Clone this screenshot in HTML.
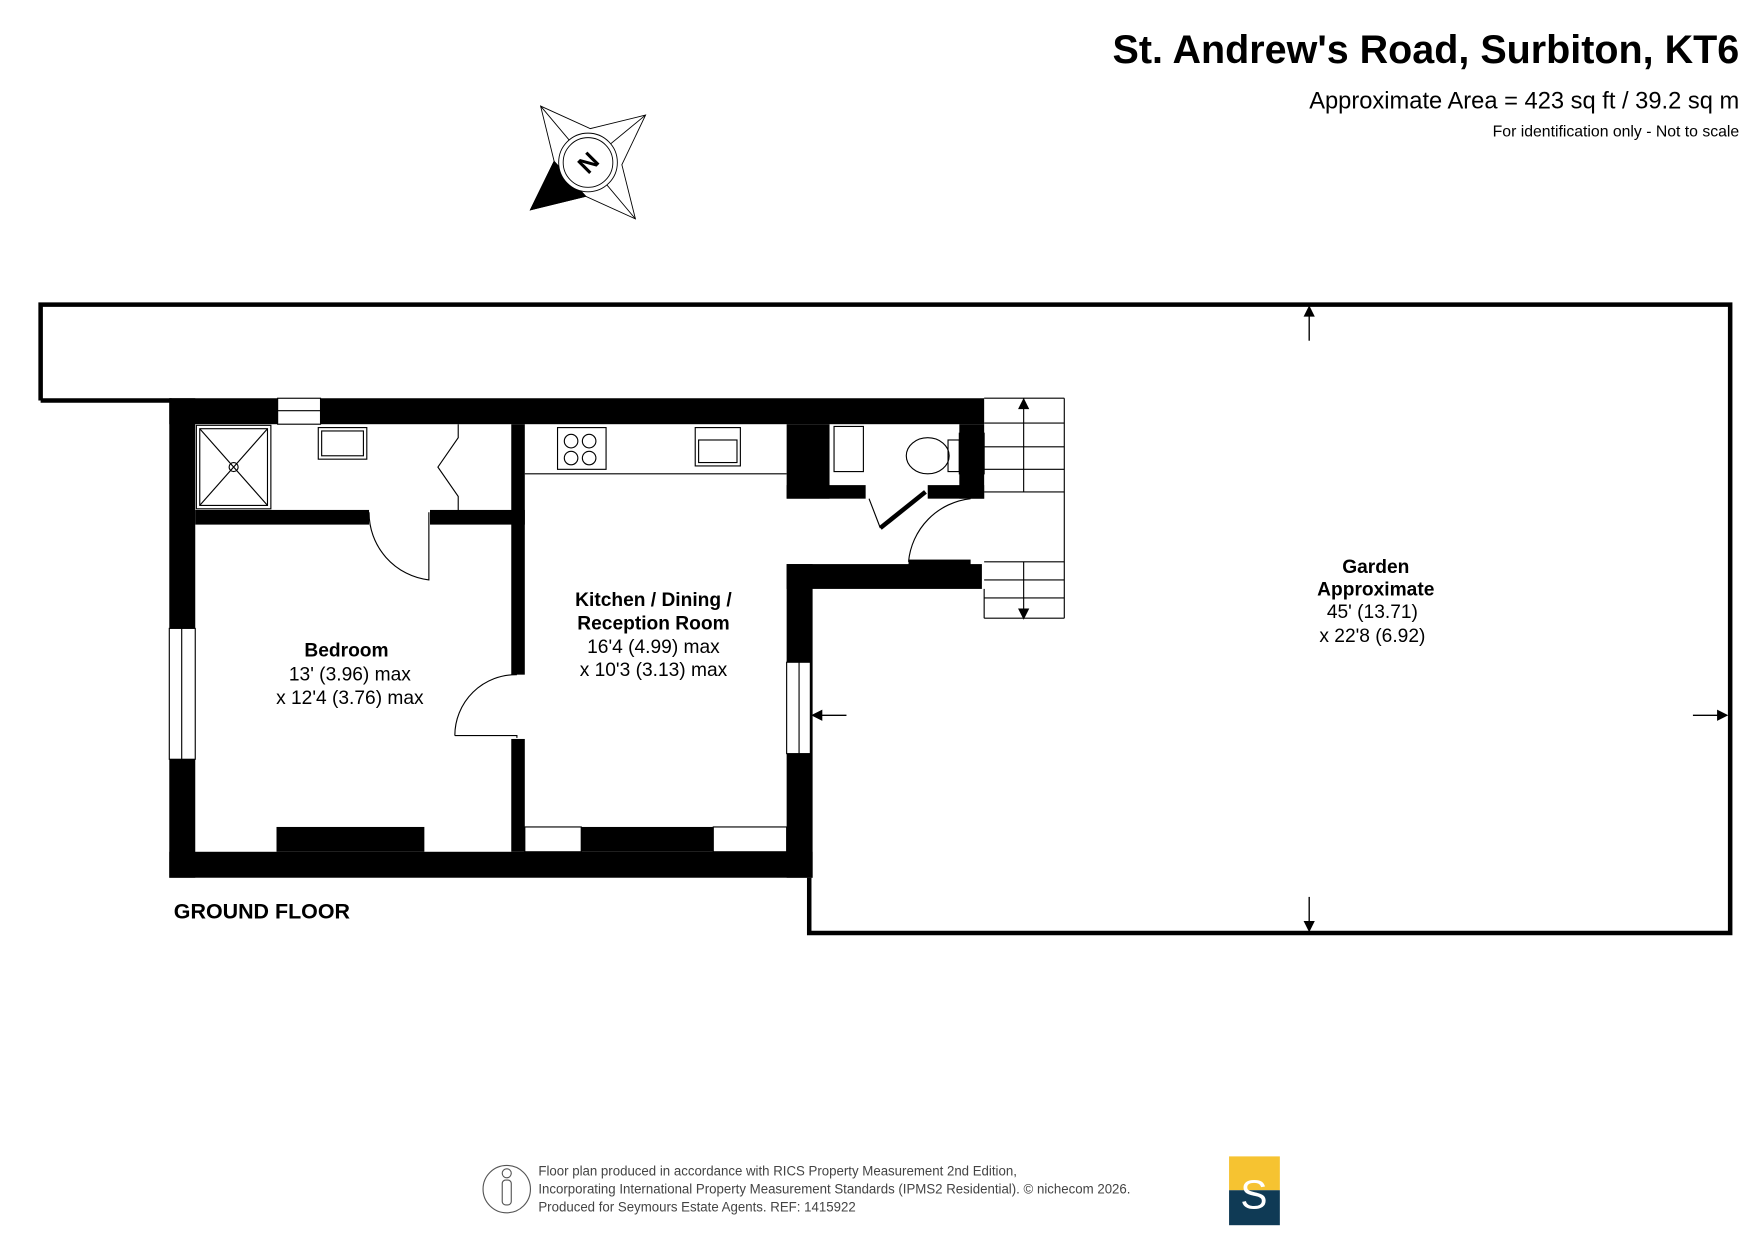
<!DOCTYPE html>
<html><head><meta charset="utf-8"><style>
html,body{margin:0;padding:0;background:#fff;}
svg{display:block;}
text{font-family:"Liberation Sans",Arial,sans-serif;}
</style></head><body>
<svg width="1755" height="1241" viewBox="0 0 1555 1100" preserveAspectRatio="none" xmlns="http://www.w3.org/2000/svg">
<rect width="1555" height="1100" fill="#fff"/>
<text x="1541" y="56" text-anchor="end" font-size="35" font-weight="bold">St. Andrew's Road, Surbiton, KT6</text>
<text x="1541" y="96" text-anchor="end" font-size="21">Approximate Area = 423 sq ft / 39.2 sq m</text>
<text x="1541" y="121" text-anchor="end" font-size="14">For identification only - Not to scale</text>
<g stroke="#000" stroke-width="0.8" fill="#fff">
<polygon points="479,94 523,114 572,102 551,146 563,194 519,174 470,186 491,143"/>
<line x1="479" y1="94" x2="521" y2="144"/><line x1="572" y1="102" x2="521" y2="144"/>
<line x1="563" y1="194" x2="521" y2="144"/><line x1="470" y1="186" x2="521" y2="144"/>
<polygon points="470,186 491,143 519,174" fill="#000"/>
<circle cx="521" cy="144" r="26"/><circle cx="521" cy="144" r="22"/>
</g>
<text x="521" y="152" text-anchor="middle" font-size="22" font-weight="bold" transform="rotate(-45 521 144)">N</text>
<g fill="none" stroke="#000" stroke-width="4">
<polyline points="36,355 36,270 1533,270 1533,827 717,827 717,778"/>
<line x1="36" y1="355" x2="152" y2="355"/>
</g>
<g fill="#000">
<rect x="150" y="353" width="722" height="23"/>
<rect x="150" y="353" width="23" height="425"/>
<rect x="150" y="755" width="570" height="23"/>
<rect x="697" y="500" width="23" height="278"/>
<rect x="173" y="452" width="154" height="13"/>
<rect x="381" y="452" width="84" height="13"/>
<rect x="453" y="376" width="12" height="222"/>
<rect x="453" y="655" width="12" height="100"/>
<rect x="245" y="733" width="131" height="22"/>
<rect x="465" y="733" width="232" height="22"/>
<rect x="697" y="376" width="38" height="66"/>
<rect x="697" y="430" width="70" height="12"/>
<rect x="822" y="430" width="50" height="12"/>
<rect x="850" y="376" width="22" height="66"/>
<rect x="697" y="500" width="173" height="22"/>
<rect x="805" y="496" width="55" height="5"/>
</g>
<g fill="#fff" stroke="#000" stroke-width="1">
<rect x="246" y="353" width="38" height="23"/><line x1="246" y1="364" x2="284" y2="364"/>
<rect x="150" y="557" width="23" height="116"/><line x1="161" y1="557" x2="161" y2="673"/>
<rect x="697" y="587" width="21" height="81"/><line x1="708" y1="587" x2="708" y2="668"/>
<rect x="465" y="733" width="50" height="22"/>
<rect x="632" y="733" width="65" height="22"/>
</g>
<g fill="none" stroke="#000" stroke-width="1">
<rect x="174" y="377" width="66" height="74"/><rect x="177" y="380" width="60" height="68"/>
<line x1="177" y1="380" x2="237" y2="448"/><line x1="237" y1="380" x2="177" y2="448"/>
<circle cx="207" cy="414" r="4"/>
<rect x="282" y="379" width="43" height="28"/><rect x="285" y="382" width="37" height="22"/>
<rect x="494" y="379" width="43" height="37"/>
<circle cx="506" cy="391" r="6"/><circle cx="522" cy="391" r="6"/><circle cx="506" cy="406" r="6"/><circle cx="522" cy="406" r="6"/>
<rect x="616" y="379" width="40" height="34"/><rect x="619" y="390" width="34" height="20"/>
<line x1="465" y1="420" x2="697" y2="420"/>
<rect x="739" y="378" width="26" height="40"/>
<ellipse cx="822" cy="404" rx="19" ry="16"/><rect x="840" y="390" width="10" height="28"/>
<rect x="850" y="384" width="22" height="36"/>
<path d="M380 454 L380 514 A60 60 0 0 1 327 454"/>
<path d="M403 652 L458 652 L458 654"/>
<path d="M403 652 A54 54 0 0 1 458 598"/>
<path d="M770 442 L780 468 M860 442 A62 62 0 0 0 805 498"/>
<polyline points="406,376 406,388 388,414 406,440 406,452"/>
<line x1="872" y1="353" x2="943" y2="353"/><line x1="943" y1="353" x2="943" y2="548"/>
<line x1="872" y1="548" x2="943" y2="548"/><line x1="872" y1="522" x2="872" y2="548"/>
<line x1="907" y1="353" x2="907" y2="436"/><line x1="907" y1="498" x2="907" y2="548"/>
<line x1="872" y1="375" x2="943" y2="375"/><line x1="872" y1="396" x2="943" y2="396"/>
<line x1="872" y1="416" x2="943" y2="416"/><line x1="872" y1="436" x2="943" y2="436"/>
<line x1="872" y1="498" x2="943" y2="498"/><line x1="872" y1="514" x2="943" y2="514"/>
<line x1="872" y1="530" x2="943" y2="530"/>
</g>
<line x1="780" y1="468" x2="820" y2="436" stroke="#000" stroke-width="4"/>
<g stroke="#000" stroke-width="1.2" fill="#000">
<line x1="1160" y1="272" x2="1160" y2="302"/><polygon points="1156,280 1164,280 1160,272"/>
<line x1="1160" y1="795" x2="1160" y2="825"/><polygon points="1156,817 1164,817 1160,825"/>
<line x1="720" y1="634" x2="750" y2="634"/><polygon points="728,630 728,638 720,634"/>
<line x1="1500" y1="634" x2="1530" y2="634"/><polygon points="1522,630 1522,638 1530,634"/>
<polygon points="903,362 911,362 907,354"/><polygon points="903,540 911,540 907,548"/>
</g>
<g text-anchor="middle" font-size="17">
<text x="307" y="582" font-weight="bold">Bedroom</text>
<text x="310" y="603">13' (3.96) max</text>
<text x="310" y="624">x 12'4 (3.76) max</text>
<text x="579" y="537" font-weight="bold">Kitchen / Dining /</text>
<text x="579" y="558" font-weight="bold">Reception Room</text>
<text x="579" y="579">16'4 (4.99) max</text>
<text x="579" y="599">x 10'3 (3.13) max</text>
<text x="1219" y="508" font-weight="bold">Garden</text>
<text x="1219" y="528" font-weight="bold">Approximate</text>
<text x="1216" y="548">45' (13.71)</text>
<text x="1216" y="569">x 22'8 (6.92)</text>
</g>
<text x="154" y="814" font-size="19" font-weight="bold">GROUND FLOOR</text>
<circle cx="449" cy="1054" r="21" fill="none" stroke="#555" stroke-width="1"/>
<circle cx="449" cy="1040" r="4" fill="none" stroke="#555"/>
<rect x="445" y="1046" width="8" height="22" rx="3" fill="none" stroke="#555"/>
<g font-size="12.5" fill="#444" transform="translate(477 0) scale(0.94 1)">
<text x="0" y="1042">Floor plan produced in accordance with RICS Property Measurement 2nd Edition,</text>
<text x="0" y="1058">Incorporating International Property Measurement Standards (IPMS2 Residential).   © nichecom 2026.</text>
<text x="0" y="1074">Produced for Seymours Estate Agents.   REF: 1415922</text>
</g>
<rect x="1089" y="1025" width="45" height="30" fill="#f6c331"/>
<rect x="1089" y="1055" width="45" height="31" fill="#0f3a55"/>
<text x="1111" y="1071" text-anchor="middle" font-size="36" fill="#fff" font-family="Liberation Serif,serif">S</text>
</svg>
</body></html>
